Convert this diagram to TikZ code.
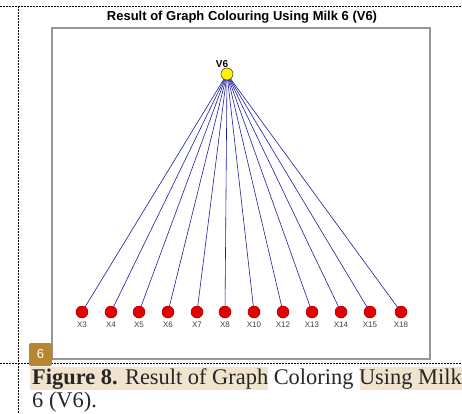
\documentclass[tikz,border=0pt]{standalone}
\usepackage{fontspec}
\setmainfont{Liberation Serif}
\newfontfamily\arialfont{Liberation Sans}
\definecolor{edgeblue}{RGB}{30,30,160}
\definecolor{badge}{RGB}{184,134,46}
\definecolor{hilite}{RGB}{240,228,206}
\definecolor{boxgray}{RGB}{150,150,150}
\begin{document}
\begin{tikzpicture}[x=1pt,y=-1pt,
  leaf/.style={circle,draw=red!60!black,fill=red!90!black,inner sep=0pt,minimum size=12pt,line width=0.5pt},
  hub/.style={circle,draw=black!70,fill=yellow,inner sep=0pt,minimum size=12pt,line width=0.6pt},
  lbl/.style={font=\arialfont\fontsize{8}{9}\selectfont,text=black!75,inner sep=0pt},
  edge/.style={draw=edgeblue,line width=0.6pt},
  frame/.style={dash pattern=on 2pt off 1pt,line width=0.8pt}]
\useasboundingbox (0,0) rectangle (462,413);
\fill[white] (0,0) rectangle (462,413);
% page dashed rules
\draw[frame] (0,6) -- (462,6);
\draw[frame] (18,6) -- (18,413);
% plot frame
\draw[boxgray,line width=1.3pt] (52,28) rectangle (430,359);
\node[font=\arialfont\bfseries\fontsize{13}{14}\selectfont,inner sep=0pt] (title) at (242,17) {Result of Graph Colouring Using Milk 6 (V6)};
% nodes
\coordinate (hubc) at (227,74);
\foreach \n/\x in {3/82,4/111,5/139,6/168,7/197,8/225,10/254,12/283,13/312,14/341,15/370,18/401}{
  \node[leaf] (X\n) at (\x,312) {};
  \draw[edge] (hubc) -- (X\n);
  \node[lbl] (L\n) at (\x,325) {X\n};
}
\node[hub] (V6) at (hubc) {};
\node[font=\arialfont\bfseries\fontsize{10}{11}\selectfont,inner sep=0pt] (V6l) at (222,64) {V6};
% caption
\fill[hilite] (30,367) rectangle (268,390);
\fill[hilite] (360,367) rectangle (462,390);
\draw[frame] (0,363) -- (462,363);
\node[fill=badge,rounded corners=2pt,minimum width=23pt,minimum height=23pt,inner sep=0pt,text=white,font=\arialfont\fontsize{13}{14}\selectfont] (badge6) at (40.5,354.5) {6};
\node[anchor=base west,inner sep=0pt,font=\fontsize{22.4}{24}\selectfont,text=black!85] (cap1) at (32,384) {\textbf{Figure 8.} Result of Graph Coloring Using Milk};
\node[anchor=base west,inner sep=0pt,font=\fontsize{22.4}{24}\selectfont,text=black!85] (cap2) at (32,407) {6 (V6).};
\end{tikzpicture}
\end{document}
